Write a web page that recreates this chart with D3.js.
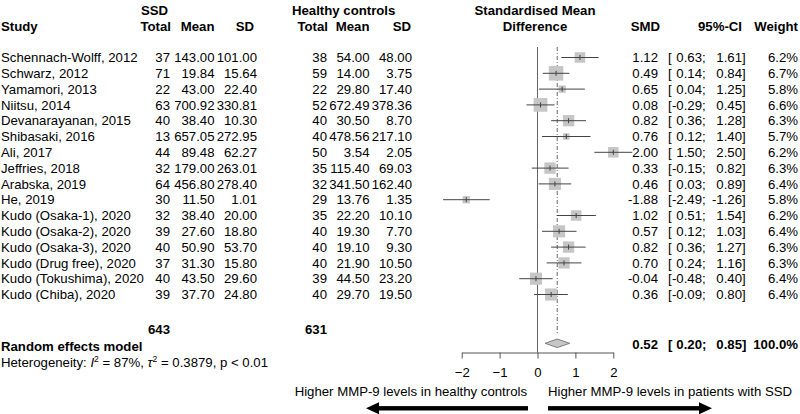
<!DOCTYPE html>
<html><head><meta charset="utf-8">
<script src="https://cdn.jsdelivr.net/npm/d3@7"></script>
<style>body{margin:0;background:#fff}svg{display:block}text{font-family:"Liberation Sans",Arial,sans-serif;font-size:13.2px;fill:#000}</style>
</head><body><svg id="c" width="800" height="414"></svg>
<script>
const studies = ["Schennach-Wolff, 2012","Schwarz, 2012","Yamamori, 2013","Niitsu, 2014","Devanarayanan, 2015","Shibasaki, 2016","Ali, 2017","Jeffries, 2018","Arabska, 2019","He, 2019","Kudo (Osaka-1), 2020","Kudo (Osaka-2), 2020","Kudo (Osaka-3), 2020","Kudo (Drug free), 2020","Kudo (Tokushima), 2020","Kudo (Chiba), 2020"];
const ssdN = [37,71,22,63,40,13,44,32,64,30,32,39,40,37,40,39];
const ssdMean = [143.00,19.84,43.00,700.92,38.40,657.05,89.48,179.00,456.80,11.50,38.40,27.60,50.90,31.30,43.50,37.70];
const ssdSD = [101.00,15.64,22.40,330.81,10.30,272.95,62.27,263.01,278.40,1.01,20.00,18.80,53.70,15.80,29.60,24.80];
const hcN = [38,59,22,52,40,40,50,35,32,29,35,40,40,40,39,40];
const hcMean = [54.00,14.00,29.80,672.49,30.50,478.56,3.54,115.40,341.50,13.76,22.20,19.30,19.10,21.90,44.50,29.70];
const hcSD = [48.00,3.75,17.40,378.36,8.70,217.10,2.05,69.03,162.40,1.35,10.10,7.70,9.30,10.50,23.20,19.50];
const smd = [1.12,0.49,0.65,0.08,0.82,0.76,2.00,0.33,0.46,-1.88,1.02,0.57,0.82,0.70,-0.04,0.36];
const ciLo = [0.63,0.14,0.04,-0.29,0.36,0.12,1.50,-0.15,0.03,-2.49,0.51,0.12,0.36,0.24,-0.48,-0.09];
const ciHi = [1.61,0.84,1.25,0.45,1.28,1.40,2.50,0.82,0.89,-1.26,1.54,1.03,1.27,1.16,0.40,0.80];
const weight = [6.2,6.7,5.8,6.6,6.3,5.7,6.2,6.3,6.4,5.8,6.2,6.4,6.3,6.3,6.4,6.4];
const pooled = {smd:0.52, lo:0.20, hi:0.85, weight:100.0, ssdTotal:643, hcTotal:631};
const axisTicks = [-2,-1,0,1,2];
const heterogeneity = {I2:"87%", tau2:"0.3879", p:"p < 0.01"};
const labelLeft = "Higher MMP-9 levels in healthy controls";
const labelRight = "Higher MMP-9 levels in patients with SSD";

const svg = d3.select("#c");
const x = d3.scaleLinear().domain([-2,2]).range([461.7,613.3]);
const y = d3.scalePoint().domain(studies).range([57.5,294.5]);
const boxSize = d3.scaleLinear().domain([5.7,6.7]).range([6.5,14.5]);
const f2 = d => d.toFixed(2);

// column right edges
const cT1 = 170, cM1 = 214.5, cS1 = 257, cT2 = 327, cM2 = 369.5, cS2 = 412;
const cSMD = 658, cBr = 668, cLo = 702, cHi = 742, cW = 798;

function t(g, xx, yy, s, anchor){ return g.append("text").attr("x",xx).attr("y",yy).attr("text-anchor",anchor||"start").text(s); }

// headers
const hdr = svg.append("g").style("font-weight","bold");
t(hdr,141,15,"SSD");
t(hdr,292,15,"Healthy controls");
t(hdr,1,31,"Study");
t(hdr,cT1+1,31,"Total","end"); t(hdr,cM1,31,"Mean","end"); t(hdr,cS1-3,31,"SD","end");
t(hdr,cT2+1,31,"Total","end"); t(hdr,cM2,31,"Mean","end"); t(hdr,cS2-1,31,"SD","end");
t(hdr,535,15,"Standardised Mean","middle"); t(hdr,535,31,"Difference","middle");
t(hdr,660,31,"SMD","end"); t(hdr,742,31,"95%-CI","end"); t(hdr,cW,31,"Weight","end");

// rows text
const rows = svg.append("g");
studies.forEach((s,i)=>{
  const yy = y(s)+4.7;
  t(rows,1,yy,s);
  t(rows,cT1,yy,ssdN[i],"end"); t(rows,cM1,yy,f2(ssdMean[i]),"end"); t(rows,cS1,yy,f2(ssdSD[i]),"end");
  t(rows,cT2,yy,hcN[i],"end"); t(rows,cM2,yy,f2(hcMean[i]),"end"); t(rows,cS2,yy,f2(hcSD[i]),"end");
  t(rows,cSMD,yy,f2(smd[i]),"end");
  t(rows,cBr,yy,"[");
  t(rows,cLo,yy,f2(ciLo[i]),"end"); t(rows,cLo,yy,";");
  t(rows,cHi,yy,f2(ciHi[i]),"end"); t(rows,cHi,yy,"]");
  t(rows,cW,yy,weight[i].toFixed(1)+"%","end");
});

// reference lines
const yTop = 47, yAxis = 352.5;
svg.append("line").attr("x1",x(0)).attr("x2",x(0)).attr("y1",yTop).attr("y2",yAxis).attr("stroke","#666").attr("stroke-width",1);
svg.append("line").attr("x1",x(pooled.smd)).attr("x2",x(pooled.smd)).attr("y1",yTop).attr("y2",334).attr("stroke","#666").attr("stroke-width",1).attr("stroke-dasharray","4,2,1,2");

// CIs and boxes
const marks = svg.append("g");
studies.forEach((s,i)=>{
  const yy = y(s);
  const b = boxSize(weight[i]);
  marks.append("rect").attr("x",x(smd[i])-b/2).attr("y",yy-b/2).attr("width",b).attr("height",b).attr("fill","#c6c6c6");
  marks.append("line").attr("x1",x(ciLo[i])).attr("x2",x(ciHi[i])).attr("y1",yy).attr("y2",yy).attr("stroke","#444").attr("stroke-width",1);
  marks.append("line").attr("x1",x(smd[i])).attr("x2",x(smd[i])).attr("y1",yy-2.5).attr("y2",yy+2.5).attr("stroke","#444").attr("stroke-width",1);
});

// pooled diamond
const yd = 343.3;
svg.append("path").attr("d",`M${x(pooled.lo)},${yd}L${x(pooled.smd)},${yd-4.3}L${x(pooled.hi)},${yd}L${x(pooled.smd)},${yd+4.3}Z`)
  .attr("fill","#c6c6c6").attr("stroke","#666").attr("stroke-width",0.8);

// axis
const ax = svg.append("g").attr("transform",`translate(0,${yAxis})`)
  .call(d3.axisBottom(x).tickValues(axisTicks).tickSize(6).tickSizeOuter(0).tickFormat(d3.format("d")));
ax.select(".domain").attr("stroke","#555");
ax.selectAll(".tick line").attr("stroke","#555");
ax.selectAll(".tick text").attr("y",15).style("font-size","13.2px").style("font-family","Liberation Sans, Arial, sans-serif").attr("fill","#000");

// pooled text
const pg = svg.append("g").style("font-weight","bold");
t(pg,cT1,334,pooled.ssdTotal,"end");
t(pg,cT2,334,pooled.hcTotal,"end");
t(pg,1,351,"Random effects model");
const yp = 348.5;
t(pg,cSMD,yp,f2(pooled.smd),"end");
t(pg,cBr,yp,"[");
t(pg,cLo,yp,f2(pooled.lo),"end"); t(pg,cLo,yp,";");
t(pg,cHi,yp,f2(pooled.hi),"end"); t(pg,cHi,yp,"]");
t(pg,cW,yp,pooled.weight.toFixed(1)+"%","end");

// heterogeneity
const ht = svg.append("text").attr("x",1).attr("y",366.5);
ht.append("tspan").text("Heterogeneity: ");
ht.append("tspan").style("font-style","italic").text("I");
ht.append("tspan").attr("dy",-4.5).style("font-size","8.5px").text("2");
ht.append("tspan").attr("dy",4.5).text(" = "+heterogeneity.I2+", ");
ht.append("tspan").style("font-style","italic").text("τ");
ht.append("tspan").attr("dy",-4.5).style("font-size","8.5px").text("2");
ht.append("tspan").attr("dy",4.5).text(" = "+heterogeneity.tau2+", "+heterogeneity.p);

// arrow labels
t(svg,527,396,labelLeft,"end");
t(svg,548,396,labelRight,"start");

// arrows
const ya = 408.3;
svg.append("rect").attr("x",376).attr("y",ya-2.2).attr("width",528-376).attr("height",4.4).attr("fill","#000");
svg.append("path").attr("d",`M${366},${ya}L${379},${ya-6}L${379},${ya+6}Z`).attr("fill","#000");
svg.append("rect").attr("x",548).attr("y",ya-2.2).attr("width",701-548).attr("height",4.4).attr("fill","#000");
svg.append("path").attr("d",`M${712},${ya}L${699},${ya-6}L${699},${ya+6}Z`).attr("fill","#000");
</script></body></html>
